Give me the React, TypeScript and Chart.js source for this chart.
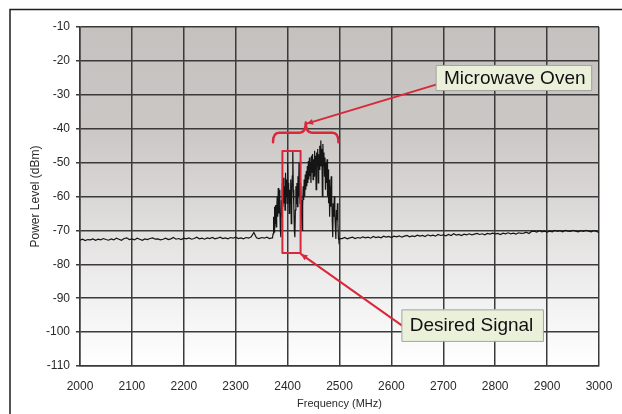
import React, { useEffect, useRef } from "react";
import { Chart, registerables } from "chart.js";

Chart.register(...registerables);

// ---- data ----
const LOW_START = 2000;
const LOW_STEP = 5;
const lowNoise = [
  -72.9, -72.6, -73.0, -72.7, -72.8, -72.5, -72.9, -72.6, -72.8, -72.4,
  -72.7, -72.9, -72.5, -72.8, -72.3, -72.6, -72.9, -72.4, -72.2, -72.7,
  -72.5, -72.8, -72.3, -72.6, -72.9, -72.5, -72.7, -72.4, -72.2, -72.6,
  -72.5, -72.8, -72.6, -72.3, -72.7, -72.5, -72.1, -72.6, -72.4, -72.7,
  -72.3, -72.5, -72.2, -72.6, -72.4, -72.0, -72.5, -72.3, -72.6, -72.2,
  -72.4, -72.1, -72.5, -72.3, -72.0, -72.4, -72.2, -72.5, -72.1, -72.3,
  -72.0, -72.4, -72.2, -72.5, -72.1, -72.3, -71.9, -70.6, -72.2, -72.4,
  -72.1, -72.3, -72.0, -72.4, -72.2,
];

const SIG_START = 2371;
const SIG_STEP = 1;
const signal = [
  -72.0, -71.0, -66.0, -70.5, -63.0, -68.0, -62.5, -69.0, -64.0, -60.0,
  -66.0, -57.5, -65.0, -58.0, -63.0, -70.0, -72.0, -61.0, -66.0, -56.0,
  -63.0, -54.5, -62.0, -57.0, -64.0, -53.0, -60.0, -55.0, -62.0, -50.0,
  -59.0, -56.0, -65.0, -58.0, -62.0, -55.0, -68.0, -60.0, -54.0, -46.5,
  -58.0, -63.0, -70.0, -72.0, -64.0, -57.0, -62.0, -56.0, -63.0, -54.0,
  -60.0, -50.0, -58.0, -62.0, -56.0, -61.0, -66.0, -70.0, -63.0, -57.0,
  -61.0, -55.0, -60.0, -53.5, -58.0, -52.5, -57.0, -51.0, -56.0, -49.5,
  -55.0, -48.5, -54.0, -50.0, -56.0, -48.0, -53.0, -47.5, -55.0, -49.0,
  -54.0, -46.5, -52.0, -48.0, -58.0, -47.0, -51.0, -46.0, -56.0, -47.5,
  -52.0, -45.0, -51.0, -43.5, -50.0, -46.0, -60.0, -44.5, -51.0, -47.0,
  -54.0, -48.5, -58.0, -50.0, -56.0, -49.0, -60.0, -52.0, -62.0, -55.0,
  -66.0, -57.0, -63.0, -54.0, -60.0, -67.0, -72.0, -62.0, -66.0, -60.0,
  -65.0, -69.0, -72.5, -64.0, -67.0, -62.0, -68.0, -72.5, -73.0, -72.4,
];

const HIGH_START = 2505;
const HIGH_STEP = 5;
const highNoise = [
  -72.4, -72.1, -72.5, -72.2, -72.0, -72.4, -72.1, -72.3, -71.9, -72.2,
  -72.0, -72.3, -71.8, -72.1, -71.9, -72.2, -71.7, -72.0, -71.8, -72.1,
  -71.7, -71.9, -71.6, -72.0, -71.7, -71.5, -71.9, -71.6, -71.8, -71.4,
  -71.7, -71.5, -71.8, -71.3, -71.6, -71.4, -71.7, -71.2, -71.5, -71.3,
  -71.6, -71.2, -71.5, -71.0, -71.4, -71.2, -71.5, -71.1, -71.3, -71.0,
  -71.3, -71.1, -70.9, -71.2, -71.0, -71.3, -70.9, -71.1, -70.8, -71.0,
  -70.9, -71.2, -70.8, -71.0, -70.7, -71.0, -70.8, -71.1, -70.7, -70.9,
  -70.8, -70.5, -70.9, -70.3, -70.2, -70.5, -70.1, -70.4, -70.2, -70.5,
  -70.2, -70.4, -70.0, -70.3, -70.1, -70.4, -70.0, -70.2, -70.3, -70.0,
  -70.2, -70.4, -70.1, -70.3, -70.0, -70.2, -70.4, -70.1, -70.3, -70.6,
];

const X_MIN = 2000;
const X_MAX = 3000;
const X_STEP = 100;
const Y_MIN = -110;
const Y_MAX = -10;
const Y_STEP = 10;

const X_TITLE = "Frequency (MHz)";
const Y_TITLE = "Power Level (dBm)";
const OVEN_LABEL = "Microwave Oven";
const DESIRED_LABEL = "Desired Signal";

// ---- annotations (in data coordinates) ----
const ovenBox = { x1: 2686, x2: 2985, y1: -21.2, y2: -28.6 };
const desiredBox = { x1: 2620, x2: 2892, y1: -93.3, y2: -102.6 };
const desiredRect = { x1: 2390, x2: 2425, y1: -46.6, y2: -76.7 };
const brace = { x1: 2372, x2: 2498, tipX: 2435, yEnd: -44.0, yBar: -41.2, yTip: -38.2 };
const ovenArrow = { fromX: 2686, fromY: -27.0, toX: 2437, toY: -38.5 };
const desiredArrow = { fromX: 2620, fromY: -98.0, toX: 2426, toY: -77.0 };

const RED = "#d8283a";

function buildPoints() {
  const pts: { x: number; y: number }[] = [];
  lowNoise.forEach((v, i) => pts.push({ x: LOW_START + i * LOW_STEP, y: v }));
  signal.forEach((v, i) => pts.push({ x: SIG_START + i * SIG_STEP, y: v }));
  highNoise.forEach((v, i) => pts.push({ x: HIGH_START + i * HIGH_STEP, y: v }));
  return pts;
}

const bgPlugin = {
  id: "bgGradient",
  beforeDraw(chart: any) {
    const { ctx, chartArea } = chart;
    if (!chartArea) return;
    const g = ctx.createLinearGradient(0, chartArea.top, 0, chartArea.bottom);
    g.addColorStop(0, "#c4c1bf");
    g.addColorStop(0.3, "#cac7c5");
    g.addColorStop(0.55, "#dddbda");
    g.addColorStop(0.75, "#eeeded");
    g.addColorStop(1, "#ffffff");
    ctx.save();
    ctx.fillStyle = g;
    ctx.fillRect(chartArea.left, chartArea.top, chartArea.right - chartArea.left, chartArea.bottom - chartArea.top);
    ctx.restore();
  },
};

function arrowHead(ctx: CanvasRenderingContext2D, fx: number, fy: number, tx: number, ty: number, size: number) {
  const a = Math.atan2(ty - fy, tx - fx);
  ctx.beginPath();
  ctx.moveTo(tx, ty);
  ctx.lineTo(tx - size * Math.cos(a - 0.45), ty - size * Math.sin(a - 0.45));
  ctx.lineTo(tx - size * Math.cos(a + 0.45), ty - size * Math.sin(a + 0.45));
  ctx.closePath();
  ctx.fill();
}

const annotPlugin = {
  id: "annotations",
  afterDatasetsDraw(chart: any) {
    const { ctx } = chart;
    const xs = chart.scales.x;
    const ys = chart.scales.y;
    const px = (v: number) => xs.getPixelForValue(v);
    const py = (v: number) => ys.getPixelForValue(v);
    ctx.save();
    ctx.strokeStyle = RED;
    ctx.fillStyle = RED;
    ctx.lineWidth = 2;
    ctx.lineJoin = "round";
    ctx.lineCap = "round";

    // red rectangle
    ctx.strokeRect(px(desiredRect.x1), py(desiredRect.y1), px(desiredRect.x2) - px(desiredRect.x1), py(desiredRect.y2) - py(desiredRect.y1));

    // brace
    const L = px(brace.x1), R = px(brace.x2), T = px(brace.tipX);
    const yE = py(brace.yEnd), yB = py(brace.yBar), yT = py(brace.yTip);
    ctx.lineWidth = 2.5;
    ctx.beginPath();
    ctx.moveTo(L, yE);
    ctx.quadraticCurveTo(L, yB, L + 6, yB);
    ctx.lineTo(T - 6, yB);
    ctx.quadraticCurveTo(T, yB, T, yT);
    ctx.quadraticCurveTo(T, yB, T + 6, yB);
    ctx.lineTo(R - 6, yB);
    ctx.quadraticCurveTo(R, yB, R, yE);
    ctx.stroke();

    // arrows
    ctx.lineWidth = 2;
    const arrows = [ovenArrow, desiredArrow];
    arrows.forEach((a) => {
      const fx = px(a.fromX), fy = py(a.fromY), tx = px(a.toX), ty = py(a.toY);
      ctx.beginPath();
      ctx.moveTo(fx, fy);
      ctx.lineTo(tx, ty);
      ctx.stroke();
      arrowHead(ctx, fx, fy, tx, ty, 7);
    });

    // label boxes
    const boxes = [
      { b: ovenBox, text: OVEN_LABEL },
      { b: desiredBox, text: DESIRED_LABEL },
    ];
    boxes.forEach(({ b, text }) => {
      const x1 = px(b.x1), x2 = px(b.x2), y1 = py(b.y1), y2 = py(b.y2);
      ctx.fillStyle = "#eaf0da";
      ctx.fillRect(x1, y1, x2 - x1, y2 - y1);
      ctx.strokeStyle = "#a3a3a0";
      ctx.lineWidth = 1;
      ctx.strokeRect(x1 + 0.5, y1 + 0.5, x2 - x1, y2 - y1);
      ctx.fillStyle = "#111";
      ctx.font = '19px "Liberation Sans", Arial, sans-serif';
      ctx.textAlign = "left";
      ctx.textBaseline = "middle";
      ctx.fillText(text, x1 + 8, (y1 + y2) / 2 + 1);
    });

    ctx.restore();
  },
  afterDraw(chart: any) {
    const { ctx } = chart;
    ctx.save();
    ctx.strokeStyle = "#1e1e1e";
    ctx.lineWidth = 1.5;
    ctx.beginPath();
    ctx.moveTo(10, 414);
    ctx.lineTo(10, 9.5);
    ctx.lineTo(622, 9.5);
    ctx.stroke();
    ctx.restore();
  },
};

export default function App() {
  const ref = useRef<HTMLCanvasElement | null>(null);
  useEffect(() => {
    if (!ref.current) return;
    const gridColor = "#3a3a3a";
    const fontFamily = '"Liberation Sans", Arial, sans-serif';
    const chart = new Chart(ref.current, {
      type: "line",
      data: {
        datasets: [
          {
            data: buildPoints(),
            borderColor: "#151515",
            borderWidth: 1.2,
            pointRadius: 0,
            tension: 0,
            fill: false,
          },
        ],
      },
      options: {
        animation: false,
        responsive: false,
        maintainAspectRatio: false,
        layout: { padding: { top: 27, right: 23, left: 0, bottom: 0 } },
        plugins: { legend: { display: false }, tooltip: { enabled: false } },
        scales: {
          x: {
            type: "linear",
            min: X_MIN,
            max: X_MAX,
            afterFit: (s: any) => {
              s.height = 48;
              s.paddingRight = 0;
              s.paddingLeft = 0;
            },
            ticks: {
              stepSize: X_STEP,
              autoSkip: false,
              maxRotation: 0,
              padding: 13,
              color: "#2a2a2a",
              font: { family: fontFamily, size: 12 },
              callback: (v: any) => String(v),
            },
            grid: { color: gridColor, lineWidth: 1.5, drawTicks: false },
            border: { color: gridColor, width: 1.5 },
            title: {
              display: true,
              text: X_TITLE,
              color: "#2a2a2a",
              font: { family: fontFamily, size: 11 },
              padding: { top: 0, bottom: 3 },
            },
          },
          y: {
            type: "linear",
            min: Y_MIN,
            max: Y_MAX,
            afterFit: (s: any) => {
              s.width = 80;
              s.paddingTop = 0;
              s.paddingBottom = 0;
            },
            ticks: {
              stepSize: Y_STEP,
              padding: 6,
              color: "#2a2a2a",
              font: { family: fontFamily, size: 12 },
              callback: (v: any) => String(v),
            },
            grid: { color: gridColor, lineWidth: 1.5, tickLength: 4 },
            border: { color: gridColor, width: 1.5 },
            title: {
              display: true,
              text: Y_TITLE,
              color: "#2a2a2a",
              font: { family: fontFamily, size: 12 },
              padding: { top: 28, bottom: 0 },
            },
          },
        },
      },
      plugins: [bgPlugin, annotPlugin],
    });
    return () => chart.destroy();
  }, []);
  return (
    <div style={{ position: "fixed", left: 0, top: 0, width: 622, height: 414, background: "#fff" }}>
      <canvas ref={ref} width={622} height={414} style={{ width: 622, height: 414, display: "block" }} />
    </div>
  );
}
